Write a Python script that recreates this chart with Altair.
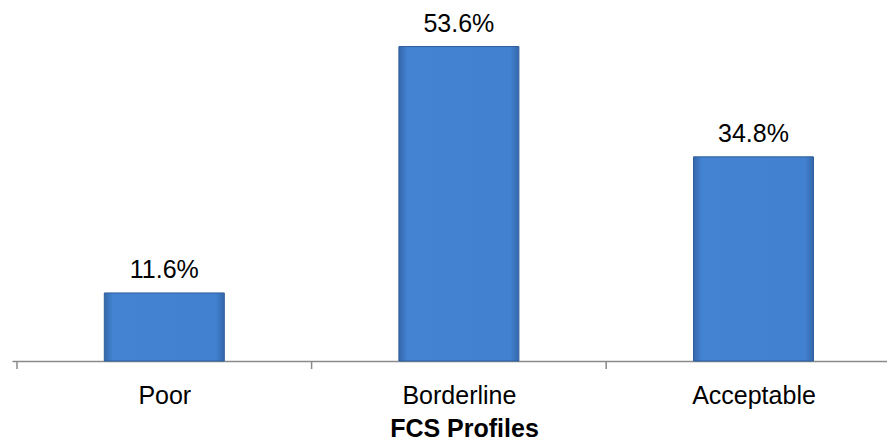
import json
import altair as alt
import pandas as pd

categories = ["Poor", "Borderline", "Acceptable"]
values = [11.6, 53.6, 34.8]
value_labels = ["11.6%", "53.6%", "34.8%"]

df = pd.DataFrame({"cat": categories, "val": values, "label": value_labels})

FONT = "Liberation Sans"
cats_js = json.dumps(categories)

PLOT_W = 875
STEP = 298  # pixels per category slot
# each category occupies one unit on x; the visible plot shows a little less than 3 units
xscale = alt.Scale(domain=[0, PLOT_W / STEP], nice=False, zero=False)
yscale = alt.Scale(domain=[0, 60])

base = alt.Chart(df).transform_calculate(
    idx=f"indexof({cats_js}, datum.cat)",
    mid=f"indexof({cats_js}, datum.cat) + 0.5",
)

bars = base.mark_bar(
    width=120,
    stroke="#2e5e9c",
    strokeWidth=1,
    color=alt.Gradient(
        gradient="linear",
        x1=0, x2=1, y1=0, y2=0,
        stops=[
            alt.GradientStop(color="#3467ab", offset=0),
            alt.GradientStop(color="#4383d1", offset=0.07),
            alt.GradientStop(color="#4181cf", offset=0.93),
            alt.GradientStop(color="#3467ab", offset=1),
        ],
    ),
).encode(
    x=alt.X(
        "mid:Q",
        scale=xscale,
        axis=alt.Axis(
            values=[0.5, 1.5, 2.5],
            labelExpr=f"{cats_js}[floor(datum.value)]",
            title="FCS Profiles",
            titleFont=FONT,
            titleFontSize=25,
            titleFontWeight="bold",
            titleColor="#000000",
            titleBaseline="alphabetic",
            titleAlign="center",
            titleY=75,
            titleX=452,
            labelFont=FONT,
            labelFontSize=25,
            labelColor="#000000",
            labelAngle=0,
            labelBaseline="alphabetic",
            labelPadding=42,
            labelFlush=False,
            labelOverlap=False,
            ticks=False,
            tickSize=0,
            domainColor="#8a8a8a",
            domainWidth=1.5,
            grid=False,
        ),
    ),
    y=alt.Y("val:Q", scale=yscale, axis=None),
)

texts = base.mark_text(
    font=FONT, fontSize=25, color="#000000", baseline="alphabetic", dy=-15
).encode(
    x=alt.X("mid:Q", scale=xscale),
    y=alt.Y("val:Q", scale=yscale),
    text="label:N",
)

ticks = base.mark_rule(color="#8a8a8a", strokeWidth=1.5).encode(
    x=alt.X("idx:Q", scale=xscale),
    y=alt.value(352),
    y2=alt.value(360),
)

chart = alt.layer(bars, ticks, texts).properties(
    width=PLOT_W,
    height=352,
    autosize=alt.AutoSizeParams(type="none"),
    padding={"left": 4, "top": 1, "right": 0, "bottom": 80},
).configure_view(stroke=None)

chart.save("out.html", embed_options={"renderer": "svg", "actions": False})
